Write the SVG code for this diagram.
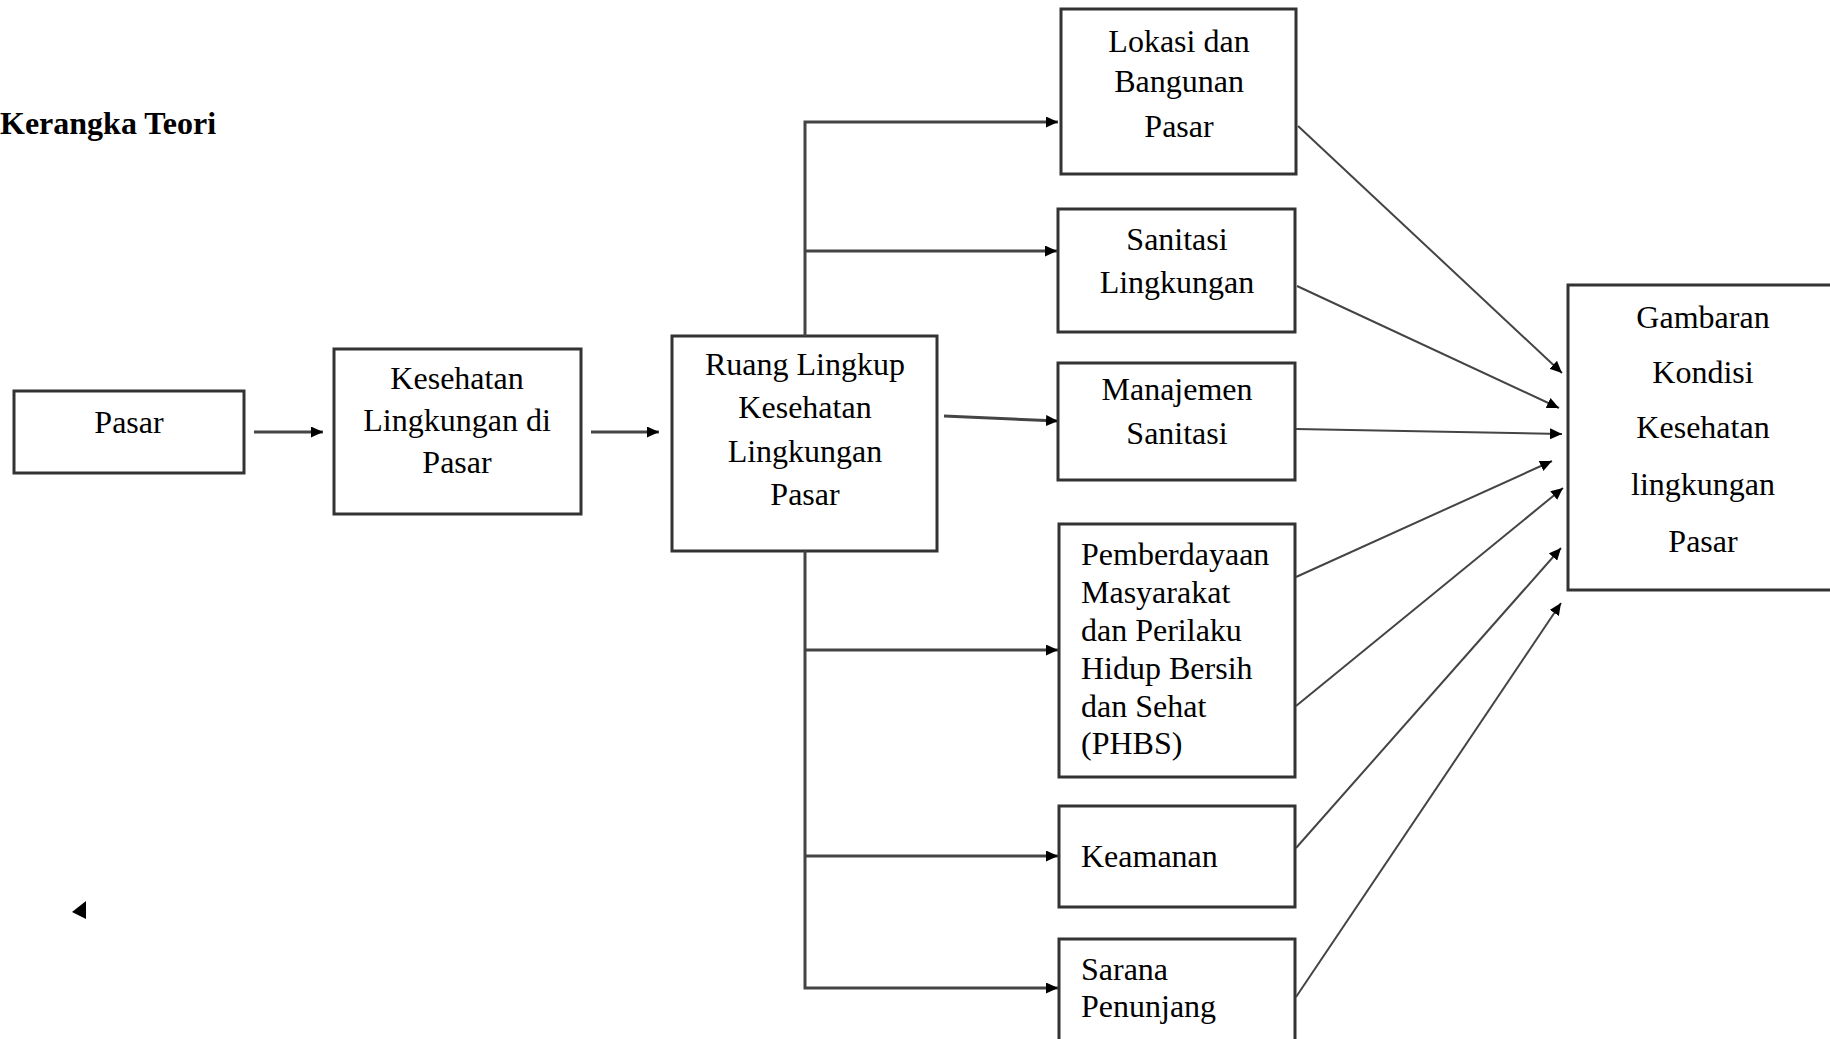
<svg xmlns="http://www.w3.org/2000/svg" width="1830" height="1039" viewBox="0 0 1830 1039">
<defs>
<style>
.box{fill:#fff;stroke:#333;stroke-width:3}
.t{font-family:"Liberation Serif","Times New Roman",serif;font-size:32px;fill:#000}
.c{text-anchor:middle}
.title{font-family:"Liberation Serif","Times New Roman",serif;font-size:32px;font-weight:bold;fill:#000}
.ln{fill:none;stroke:#444;stroke-width:3}
.dg{fill:none;stroke:#444;stroke-width:2}
</style>
<marker id="ah" markerUnits="userSpaceOnUse" markerWidth="13" markerHeight="11" refX="12" refY="5.5" orient="auto">
<path d="M0,0 L12,5.5 L0,11 z" fill="#000"/>
</marker>
</defs>
<rect width="1830" height="1039" fill="#fff"/>
<text class="title" x="0" y="134">Kerangka Teori</text>

<g id="n-pasar">
<rect class="box" x="14" y="391" width="230" height="82"/>
<text class="t c" x="129" y="433">Pasar</text>
</g>
<g id="n-kesehatan">
<rect class="box" x="334" y="349" width="247" height="165"/>
<text class="t c" x="457" y="389">Kesehatan</text>
<text class="t c" x="457" y="431">Lingkungan di</text>
<text class="t c" x="457" y="473">Pasar</text>
</g>
<g id="n-ruang">
<rect class="box" x="672" y="336" width="265" height="215"/>
<text class="t c" x="805" y="375">Ruang Lingkup</text>
<text class="t c" x="805" y="418">Kesehatan</text>
<text class="t c" x="805" y="462">Lingkungan</text>
<text class="t c" x="805" y="505">Pasar</text>
</g>
<g id="n-lokasi">
<rect class="box" x="1061" y="9" width="235" height="165"/>
<text class="t c" x="1179" y="52">Lokasi dan</text>
<text class="t c" x="1179" y="92">Bangunan</text>
<text class="t c" x="1179" y="137">Pasar</text>
</g>
<g id="n-sanitasi">
<rect class="box" x="1058" y="209" width="237" height="123"/>
<text class="t c" x="1177" y="250">Sanitasi</text>
<text class="t c" x="1177" y="293">Lingkungan</text>
</g>
<g id="n-manajemen">
<rect class="box" x="1058" y="363" width="237" height="117"/>
<text class="t c" x="1177" y="400">Manajemen</text>
<text class="t c" x="1177" y="444">Sanitasi</text>
</g>
<g id="n-pemberdayaan">
<rect class="box" x="1059" y="524" width="236" height="253"/>
<text class="t" x="1081" y="565">Pemberdayaan</text>
<text class="t" x="1081" y="603">Masyarakat</text>
<text class="t" x="1081" y="641">dan Perilaku</text>
<text class="t" x="1081" y="679">Hidup Bersih</text>
<text class="t" x="1081" y="717">dan Sehat</text>
<text class="t" x="1081" y="754">(PHBS)</text>
</g>
<g id="n-keamanan">
<rect class="box" x="1059" y="806" width="236" height="101"/>
<text class="t" x="1081" y="867">Keamanan</text>
</g>
<g id="n-sarana">
<rect class="box" x="1059" y="939" width="236" height="104"/>
<text class="t" x="1081" y="980">Sarana</text>
<text class="t" x="1081" y="1017">Penunjang</text>
</g>
<g id="n-gambaran">
<rect class="box" x="1568" y="285" width="280" height="305"/>
<text class="t c" x="1703" y="328">Gambaran</text>
<text class="t c" x="1703" y="383">Kondisi</text>
<text class="t c" x="1703" y="438">Kesehatan</text>
<text class="t c" x="1703" y="495">lingkungan</text>
<text class="t c" x="1703" y="552">Pasar</text>
</g>

<g id="connectors">
<path class="ln" d="M254,432 H323" marker-end="url(#ah)"/>
<path class="ln" d="M591,432 H659" marker-end="url(#ah)"/>
<path class="ln" d="M805,336 V122 H1058" marker-end="url(#ah)"/>
<path class="ln" d="M805,251 H1057" marker-end="url(#ah)"/>
<path class="ln" d="M944,416 L1058,421" marker-end="url(#ah)"/>
<path class="ln" d="M805,551 V988 H1058" marker-end="url(#ah)"/>
<path class="ln" d="M805,650 H1058" marker-end="url(#ah)"/>
<path class="ln" d="M805,856 H1058" marker-end="url(#ah)"/>
<path class="dg" d="M1298,126 L1562,373" marker-end="url(#ah)"/>
<path class="dg" d="M1297,286 L1559,408" marker-end="url(#ah)"/>
<path class="dg" d="M1296,429 L1562,434" marker-end="url(#ah)"/>
<path class="dg" d="M1296,577 L1552,461" marker-end="url(#ah)"/>
<path class="dg" d="M1296,706 L1563,488" marker-end="url(#ah)"/>
<path class="dg" d="M1296,848 L1561,548" marker-end="url(#ah)"/>
<path class="dg" d="M1296,997 L1561,603" marker-end="url(#ah)"/>
<polygon points="72,912 86,901 86,919" fill="#000"/>
</g>
</svg>
